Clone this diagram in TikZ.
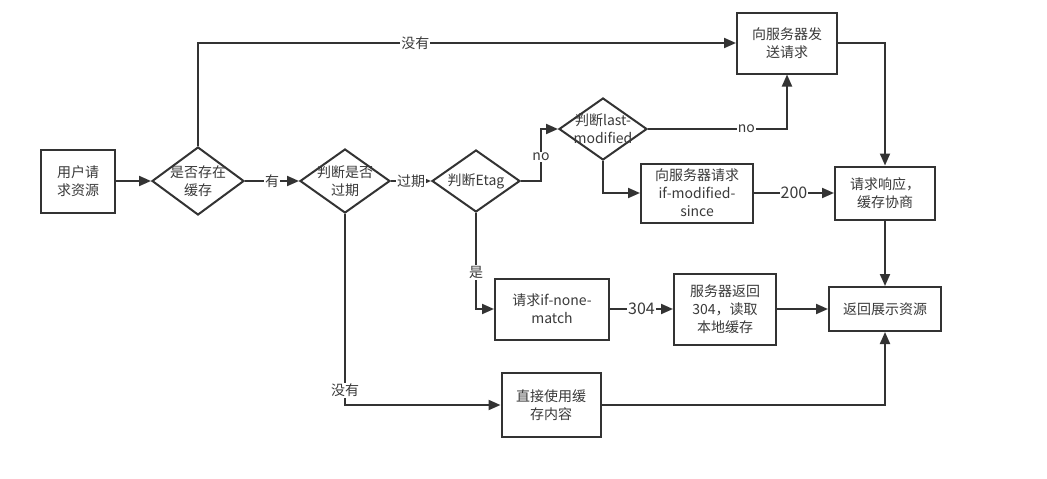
\documentclass[tikz,border=0pt]{standalone}
\usepackage{fontspec}
\setmainfont{Noto Sans CJK SC}
\usepackage{xcolor}
\usepackage{tikz}
\usetikzlibrary{arrows.meta, shapes.geometric}

\definecolor{linegray}{HTML}{333333}
\definecolor{txtgray}{HTML}{3A3A3A}

\tikzset{
  box/.style={draw=linegray, line width=2pt, fill=white, align=center, inner sep=0pt, text=txtgray},
  decide/.style={diamond, draw=linegray, line width=2pt, fill=white, inner sep=0pt},
  dtext/.style={align=center, text=txtgray, inner sep=0pt},
  flow/.style={->, draw=linegray, line width=2pt},
  lbl/.style={fill=white, inner sep=1pt, text=txtgray},
  big/.style={font=\fontsize{16}{18}\selectfont}
}

\begin{document}
\begin{tikzpicture}[x=1pt, y=-1pt, >={Triangle[length=12pt,width=10pt]},
    font=\fontsize{14}{18}\selectfont]
    \useasboundingbox (0,0) rectangle (1047,479);

    % 判断
    \node[box, minimum width=74, minimum height=63] (user) at (78,181) {用户请\\求资源};
    \node[decide, minimum width=92, minimum height=68,
          label={[dtext]center:{是否存在\\缓存}}] (exist) at (198,181) {};
    \node[decide, minimum width=90, minimum height=64,
          label={[dtext]center:{判断是否\\过期}}] (expire) at (345,181) {};
    \node[decide, minimum width=88, minimum height=62,
          label={[dtext]center:{判断Etag}}] (etag) at (476,181) {};
    \node[decide, minimum width=88, minimum height=62,
          label={[dtext]center:{判断last-\\modified}}] (lastmod) at (603,129) {};

    % 请求与返回
    \node[box, minimum width=100, minimum height=61] (send) at (787,43) {向服务器发\\送请求};
    \node[box, minimum width=112, minimum height=59] (ims) at (697,193) {向服务器请求\\if-modified-\\since};
    \node[box, minimum width=100, minimum height=53] (resp) at (885,193) {请求响应，\\缓存协商};
    \node[box, minimum width=112, minimum height=44] (show) at (885,309) {返回展示资源};
    \node[box, minimum width=114, minimum height=61] (inm) at (552,309) {请求if-none-\\match};
    \node[box, minimum width=102, minimum height=71] (hit) at (725,309) {服务器返回\\304，读取\\本地缓存};
    \node[box, minimum width=99, minimum height=64] (direct) at (551,405) {直接使用缓\\存内容};

    % 连线
    \draw[flow] (user) -- (exist);
    \draw[flow] (exist.north) |- node[lbl, pos=0.702] {没有} (send);
    \draw[flow] (exist) -- node[lbl] {有} (expire);
    \draw[flow] (expire) -- node[lbl] {过期} (etag);
    \draw[flow] (etag.east) -- ++(20,0) |- node[lbl, pos=0.23] {no} (lastmod.west);
    \draw[flow] (lastmod.east) -| node[lbl, pos=0.354] {no} (send.south);
    \draw[flow] (lastmod.south) |- (ims.west);
    \draw[flow] (ims) -- node[lbl, big] {200} (resp);
    \draw[flow] (send.east) -| (resp.north);
    \draw[flow] (resp) -- (show);
    \draw[flow] (etag.south) |- node[lbl, pos=0.31] {是} (inm.west);
    \draw[flow] (inm) -- node[lbl, big] {304} (hit);
    \draw[flow] (hit) -- (show);
    \draw[flow] (expire.south) |- node[lbl, pos=0.461] {没有} (direct.west);
    \draw[flow] (direct.east) -| (show.south);
\end{tikzpicture}
\end{document}
